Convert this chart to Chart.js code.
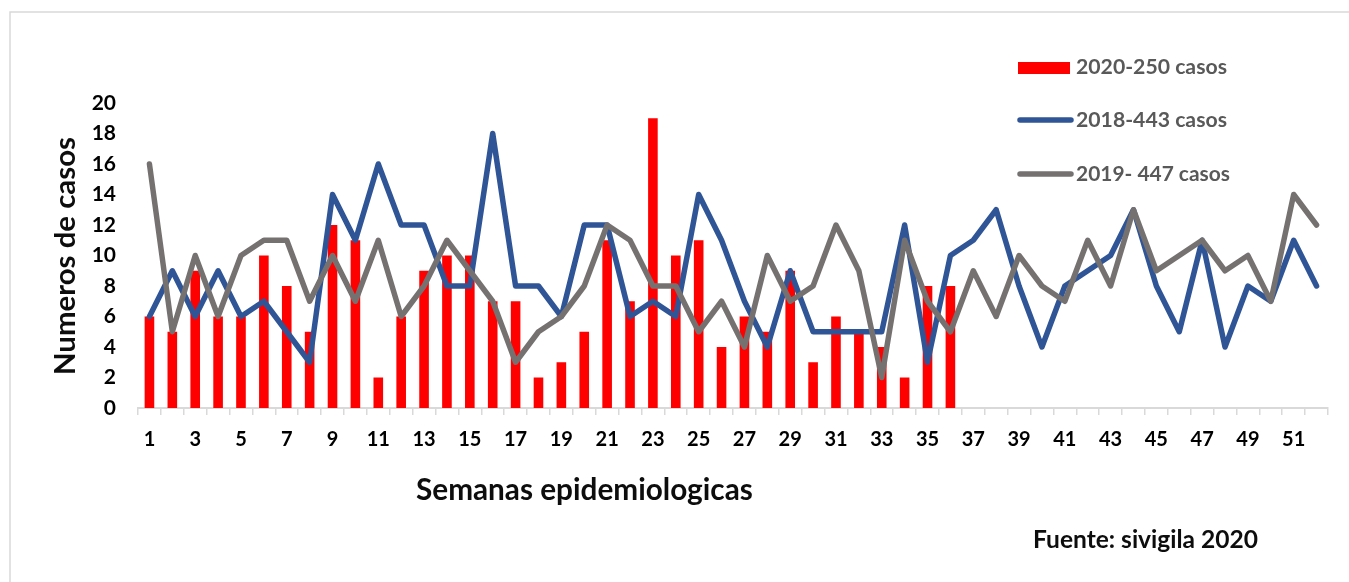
<!DOCTYPE html>
<html><head><meta charset="utf-8">
<script src="https://cdn.jsdelivr.net/npm/chart.js@4.4.1/dist/chart.umd.min.js"></script>
<style>html,body{margin:0;padding:0;background:#fff;overflow:hidden}#wrap{position:relative;width:1349px;height:582px}</style>
</head><body><div id="wrap"><canvas id="c" width="1349" height="582"></canvas></div>
<script>
const weeks = ['1','2','3','4','5','6','7','8','9','10','11','12','13','14','15','16','17','18','19','20','21','22','23','24','25','26','27','28','29','30','31','32','33','34','35','36','37','38','39','40','41','42','43','44','45','46','47','48','49','50','51','52'];
const casos2020 = [6,5,9,6,6,10,8,5,12,11,2,6,9,10,10,7,7,2,3,5,11,7,19,10,11,4,6,5,9,3,6,5,4,2,8,8];
const casos2018 = [6,9,6,9,6,7,5,3,14,11,16,12,12,8,8,18,8,8,6,12,12,6,7,6,14,11,7,4,9,5,5,5,5,12,3,10,11,13,8,4,8,9,10,13,8,5,11,4,8,7,11,8];
const casos2019 = [16,5,10,6,10,11,11,7,10,7,11,6,8,11,9,7,3,5,6,8,12,11,8,8,5,7,4,10,7,8,12,9,2,11,7,5,9,6,10,8,7,11,8,13,9,10,11,9,10,7,14,12];
const yTicks = [0,2,4,6,8,10,12,14,16,18,20];
const seriesNames = ['2020-250 casos','2018-443 casos','2019- 447 casos'];
const xTitle = 'Semanas epidemiologicas';
const yTitle = 'Numeros de casos';
const sourceText = 'Fuente: sivigila 2020';

const RED = '#FF0000', BLUE = '#2F5597', GRAY = '#767171';
const FAM = 'Lato';

function fitSize(ctx, text, target) {
  ctx.font = 'bold 100px ' + FAM;
  return 100 * target / ctx.measureText(text).width;
}

const extras = {
  id: 'extras',
  beforeDraw(chart) {
    const ctx = chart.ctx;
    ctx.save();
    ctx.fillStyle = '#fff';
    ctx.fillRect(0, 0, chart.width, chart.height);
    ctx.strokeStyle = '#d9d9d9';
    ctx.lineWidth = 1.5;
    ctx.strokeRect(10, 12, 1500, 800);
    ctx.restore();
  },
  afterDraw(chart) {
    const ctx = chart.ctx;
    ctx.save();
    // legend
    ctx.fillStyle = RED;
    ctx.fillRect(1018, 62, 52, 12);
    ctx.lineCap = 'round';
    ctx.lineWidth = 5.5;
    ctx.strokeStyle = BLUE;
    ctx.beginPath(); ctx.moveTo(1020, 120); ctx.lineTo(1071, 120); ctx.stroke();
    ctx.strokeStyle = GRAY;
    ctx.beginPath(); ctx.moveTo(1020, 174); ctx.lineTo(1071, 174); ctx.stroke();
    ctx.fillStyle = '#595959';
    ctx.textBaseline = 'alphabetic';
    ctx.textAlign = 'left';
    const legY = [74, 127, 181];
    const legW = [151, 151, 154];
    seriesNames.forEach((t, i) => {
      const s = fitSize(ctx, t, legW[i]);
      ctx.font = 'bold ' + s.toFixed(2) + 'px ' + FAM;
      ctx.fillText(t, 1076, legY[i]);
    });
    // x title
    ctx.fillStyle = '#0d0d0d';
    let s = fitSize(ctx, xTitle, 337);
    ctx.font = 'bold ' + s.toFixed(2) + 'px ' + FAM;
    ctx.fillText(xTitle, 416, 500);
    // source
    s = fitSize(ctx, sourceText, 225);
    ctx.font = 'bold ' + s.toFixed(2) + 'px ' + FAM;
    ctx.fillText(sourceText, 1033, 548);
    // y title
    s = fitSize(ctx, yTitle, 238);
    ctx.font = 'bold ' + s.toFixed(2) + 'px ' + FAM;
    ctx.translate(75, 375);
    ctx.rotate(-Math.PI / 2);
    ctx.fillText(yTitle, 0, 0);
    ctx.restore();
  }
};

new Chart(document.getElementById('c'), {
  type: 'bar',
  data: {
    labels: weeks,
    datasets: [
      { type: 'bar', label: seriesNames[0], data: casos2020, backgroundColor: RED, borderWidth: 0,
        categoryPercentage: 1, barPercentage: 0.42, order: 3 },
      { type: 'line', label: seriesNames[1], data: casos2018, borderColor: BLUE, backgroundColor: BLUE,
        borderWidth: 5.5, pointRadius: 0, tension: 0, borderJoinStyle: 'round', borderCapStyle: 'round', order: 2 },
      { type: 'line', label: seriesNames[2], data: casos2019, borderColor: GRAY, backgroundColor: GRAY,
        borderWidth: 5.5, pointRadius: 0, tension: 0, borderJoinStyle: 'round', borderCapStyle: 'round', order: 1 }
    ]
  },
  options: {
    responsive: false,
    animation: false,
    devicePixelRatio: 1,
    layout: { padding: { left: 0, right: 21, top: 103, bottom: 0 } },
    plugins: { legend: { display: false }, tooltip: { enabled: false }, title: { display: false } },
    scales: {
      x: {
        offset: true,
        grid: { offset: true, display: true, drawOnChartArea: false, drawTicks: true, tickLength: 7, color: '#d9d9d9', lineWidth: 1.5 },
        border: { display: true, color: '#d9d9d9', width: 2 },
        ticks: {
          autoSkip: false, maxRotation: 0, minRotation: 0, padding: 13, color: '#000',
          font: { family: FAM, weight: 'bold', size: 20 },
          callback: function (v, i) { return i % 2 === 0 ? weeks[i] : ''; }
        },
        afterFit: function (sc) { sc.height = 174; }
      },
      y: {
        min: 0, max: 20,
        afterBuildTicks: function (sc) { sc.ticks = yTicks.map(v => ({ value: v })); },
        grid: { display: false, drawTicks: false },
        border: { display: false },
        ticks: { padding: 22, color: '#000', font: { family: FAM, weight: 'bold', size: 21 } },
        afterFit: function (sc) { sc.width = 138; }
      }
    }
  },
  plugins: [extras]
});
</script>
</body></html>
